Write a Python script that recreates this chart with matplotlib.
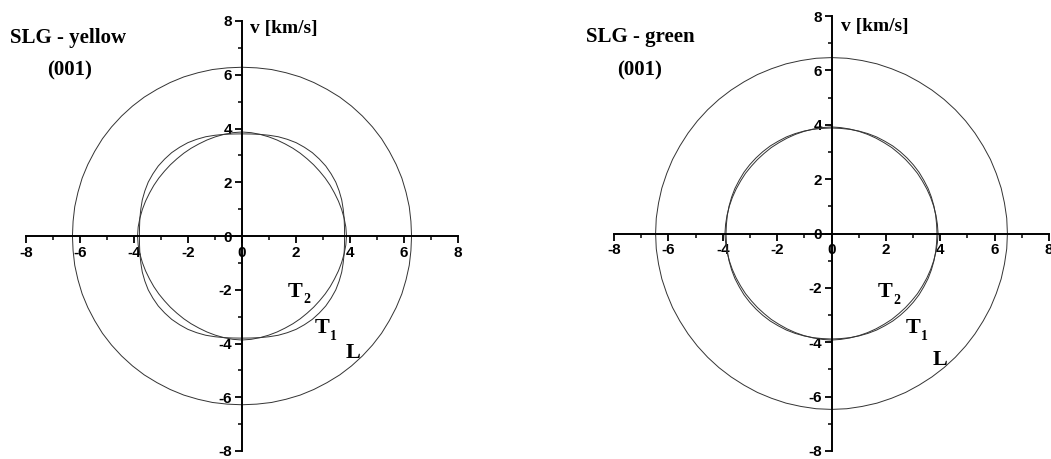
import numpy as np
import matplotlib
matplotlib.use("Agg")
import matplotlib.pyplot as plt
from matplotlib.ticker import MultipleLocator, FormatStrFormatter

plt.rcParams['axes.unicode_minus'] = False

# angles (deg) for one octant of the (001) plane; cubic symmetry gives the rest
angles_deg = [0, 5, 10, 15, 20, 25, 30, 35, 40, 45]

# SLG - yellow, velocities in km/s
L_yellow = [6.28, 6.28, 6.29, 6.29, 6.30, 6.30, 6.30, 6.31, 6.31, 6.31]
T1_yellow = [3.80, 3.81, 3.84, 3.88, 3.93, 3.97, 4.01, 4.03, 4.05, 4.05]
T2_yellow = [3.87, 3.86, 3.84, 3.82, 3.80, 3.78, 3.77, 3.76, 3.75, 3.75]

# SLG - green, velocities in km/s
L_green = [6.47, 6.47, 6.46, 6.46, 6.45, 6.45, 6.44, 6.44, 6.44, 6.44]
T1_green = [3.88, 3.88, 3.89, 3.90, 3.91, 3.92, 3.92, 3.93, 3.93, 3.93]
T2_green = [3.92, 3.91, 3.90, 3.89, 3.88, 3.87, 3.86, 3.86, 3.85, 3.85]

panels = [
    dict(title="SLG - yellow", L=L_yellow, T1=T1_yellow, T2=T2_yellow,
         rect=[26/1051, 8/459, 432/1051, 430/459],
         title_xy=(68/1051, 1-38/459), sub_xy=(70/1051, 1-70/459),
         vlab_xy=(250/1051, 1-28/459),
         lab=dict(T2=(1.96, -2.07), T1=(2.96, -3.44), L=(4.1, -4.37))),
    dict(title="SLG - green", L=L_green, T1=T1_green, T2=T2_green,
         rect=[614/1051, 8/459, 435/1051, 435/459],
         title_xy=(640/1051, 1-37/459), sub_xy=(640/1051, 1-70/459),
         vlab_xy=(841/1051, 1-27/459),
         lab=dict(T2=(1.96, -2.15), T1=(2.99, -3.48), L=(3.98, -4.66))),
]


def full_curve(r_oct):
    th_oct = np.radians(angles_deg)
    r_q = list(r_oct) + list(r_oct[::-1][1:])
    th_q = list(th_oct) + list((np.pi / 2 - th_oct[::-1])[1:])
    th, r = [], []
    for k in range(4):
        th += [t + k * np.pi / 2 for t in th_q[:-1]]
        r += r_q[:-1]
    th.append(th[0] + 2 * np.pi)
    r.append(r[0])
    th = np.array(th)
    r = np.array(r)
    return r * np.cos(th), r * np.sin(th)


def sub_label(ax, xy, main, sub):
    ax.annotate(main, xy=xy, fontsize=16, fontweight='bold',
                family='Liberation Serif', ha='center', va='center')
    if sub:
        ax.annotate(sub, xy=xy, xytext=(6, -6), textcoords='offset points',
                    fontsize=10, fontweight='bold', family='Liberation Serif',
                    ha='left', va='center')


fig = plt.figure(figsize=(10.51, 4.59), dpi=100)

for p in panels:
    ax = fig.add_axes(p['rect'])
    ax.set_xlim(-8, 8)
    ax.set_ylim(-8, 8)
    for key in ('L', 'T1', 'T2'):
        x, y = full_curve(p[key])
        ax.plot(x, y, color='#333333', lw=0.7)
    ax.spines['left'].set_position(('data', 0))
    ax.spines['bottom'].set_position(('data', 0))
    ax.spines['right'].set_visible(False)
    ax.spines['top'].set_visible(False)
    for s in ('left', 'bottom'):
        ax.spines[s].set_linewidth(1.4)
        ax.spines[s].set_color('black')
    ax.patch.set_visible(False)
    ax.xaxis.set_major_locator(MultipleLocator(2))
    ax.xaxis.set_minor_locator(MultipleLocator(1))
    ax.yaxis.set_major_locator(MultipleLocator(2))
    ax.yaxis.set_minor_locator(MultipleLocator(1))
    ax.xaxis.set_major_formatter(FormatStrFormatter('%d'))
    ax.yaxis.set_major_formatter(FormatStrFormatter('%d'))
    ax.tick_params(which='major', direction='out', length=5, width=1.3,
                   labelsize=11, pad=2)
    ax.tick_params(which='minor', direction='out', length=3, width=1.1)
    for lbl in ax.get_xticklabels() + ax.get_yticklabels():
        lbl.set_fontfamily('Liberation Sans')
        lbl.set_fontweight('bold')
    sub_label(ax, p['lab']['T2'], 'T', '2')
    sub_label(ax, p['lab']['T1'], 'T', '1')
    sub_label(ax, p['lab']['L'], 'L', None)
    fig.text(*p['title_xy'], p['title'], fontsize=15, fontweight='bold',
             family='Liberation Serif', ha='center', va='center')
    fig.text(*p['sub_xy'], "(001)", fontsize=15, fontweight='bold',
             family='Liberation Serif', ha='center', va='center')
    fig.text(*p['vlab_xy'], "v [km/s]", fontsize=14, fontweight='bold',
             family='Liberation Serif', ha='left', va='center')

fig.savefig('out.png', dpi=100)
